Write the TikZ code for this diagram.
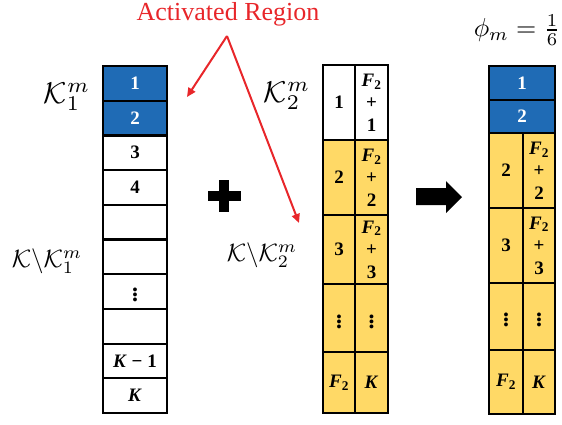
\documentclass[tikz,border=0pt]{standalone}
\usepackage{amsmath}
\usepackage{graphicx}
\usepackage{fontspec}
\setmainfont{Liberation Serif}
\usetikzlibrary{arrows.meta}
\definecolor{cblue}{RGB}{31,107,181}
\definecolor{cyell}{RGB}{255,217,102}
\definecolor{cred}{RGB}{232,38,42}
\tikzset{
  cell/.style={draw=black, line width=2.2pt, inner sep=0pt, align=center,
     font=\fontsize{19}{22.5}\selectfont\bfseries},
  bluecell/.style={cell, fill=cblue, text=white},
  yelcell/.style={cell, fill=cyell},
  whitecell/.style={cell, fill=white},
  redarrow/.style={draw=cred, line width=2pt, -{Triangle[length=9pt,width=8pt]}},
}
\newcommand{\Fb}{\textbf{\textit{F}}\textsubscript{\textbf{2}}}
\newcommand{\Kb}{\textbf{\textit{K}}}
\newcommand{\vd}{\raisebox{-2pt}{\scalebox{1.25}{$\vdots$}}}
\begin{document}
\begin{tikzpicture}[x=1pt,y=-1pt]
\useasboundingbox (0,0) rectangle (562,424);
% ---- left column
\def\rh{34.7}
\node[bluecell, minimum width=64pt, minimum height=\rh pt] (L1) at (135,83.35) {1};
\node[bluecell, minimum width=64pt, minimum height=\rh pt] (L2) at (135,118.05) {2};
\node[whitecell, minimum width=64pt, minimum height=\rh pt] (L3) at (135,152.75) {3};
\node[whitecell, minimum width=64pt, minimum height=\rh pt] (L4) at (135,187.45) {4};
\node[whitecell, minimum width=64pt, minimum height=\rh pt] (L5) at (135,222.15) {};
\node[whitecell, minimum width=64pt, minimum height=\rh pt] (L6) at (135,256.85) {};
\node[whitecell, minimum width=64pt, minimum height=\rh pt] (L7) at (135,291.55) {\vd};
\node[whitecell, minimum width=64pt, minimum height=\rh pt] (L8) at (135,326.25) {};
\node[whitecell, minimum width=64pt, minimum height=\rh pt] (L9) at (135,360.95) {\Kb{} − 1};
\node[whitecell, minimum width=64pt, minimum height=\rh pt] (L10) at (135,395.65) {\Kb};
% ---- middle column
\node[whitecell, minimum width=32pt, minimum height=75pt] (M1a) at (339,102.5) {1};
\node[whitecell, minimum width=33pt, minimum height=75pt] (M1b) at (371.5,102.5) {\Fb\\+\\1};
\node[yelcell, minimum width=32pt, minimum height=75pt] (M2a) at (339,177.5) {2};
\node[yelcell, minimum width=33pt, minimum height=75pt] (M2b) at (371.5,177.5) {\Fb\\+\\2};
\node[yelcell, minimum width=32pt, minimum height=69pt] (M3a) at (339,249.5) {3};
\node[yelcell, minimum width=33pt, minimum height=69pt] (M3b) at (371.5,249.5) {\Fb\\+\\3};
\node[yelcell, minimum width=32pt, minimum height=68pt] (M4a) at (339,318) {\vd};
\node[yelcell, minimum width=33pt, minimum height=68pt] (M4b) at (371.5,318) {\vd};
\node[yelcell, minimum width=32pt, minimum height=61pt] (M5a) at (339,382.5) {\Fb};
\node[yelcell, minimum width=33pt, minimum height=61pt] (M5b) at (371.5,382.5) {\Kb};
% ---- right column
\node[bluecell, minimum width=66pt, minimum height=34pt] (R1) at (522,83) {1};
\node[bluecell, minimum width=66pt, minimum height=33pt] (R2) at (522,116.5) {2};
\node[yelcell, minimum width=34pt, minimum height=75pt] (R3a) at (506,170.5) {2};
\node[yelcell, minimum width=32pt, minimum height=75pt] (R3b) at (539,170.5) {\Fb\\+\\2};
\node[yelcell, minimum width=34pt, minimum height=75pt] (R4a) at (506,245.5) {3};
\node[yelcell, minimum width=32pt, minimum height=75pt] (R4b) at (539,245.5) {\Fb\\+\\3};
\node[yelcell, minimum width=34pt, minimum height=67pt] (R5a) at (506,316.5) {\vd};
\node[yelcell, minimum width=32pt, minimum height=67pt] (R5b) at (539,316.5) {\vd};
\node[yelcell, minimum width=34pt, minimum height=64pt] (R6a) at (506,382) {\Fb};
\node[yelcell, minimum width=32pt, minimum height=64pt] (R6b) at (539,382) {\Kb};
% ---- labels
\node (k1) at (67,97) {\scalebox{3}{$\mathcal{K}_1^m$}};
\node (k2) at (287,96) {\scalebox{3}{$\mathcal{K}_2^m$}};
\node (kk1) at (47,261) {\scalebox{2.5}{$\mathcal{K}\backslash\mathcal{K}_1^m$}};
\node (kk2) at (262,255) {\scalebox{2.5}{$\mathcal{K}\backslash\mathcal{K}_2^m$}};
\node (phi) at (517,30) {\scalebox{2.6}{$\phi_m = \frac{1}{6}$}};
% ---- activated region
\node[text=cred, font=\fontsize{26}{30}\selectfont] (act) at (228,14) {Activated Region};
\coordinate (apex) at (227,36);
\coordinate (tipA) at (187,97);
\coordinate (tipB) at (299,223);
\draw[redarrow] (apex) -- (tipA);
\draw[redarrow] (apex) -- (tipB);
% ---- plus
\draw[line width=10pt] (208,196) -- (241,196);
\draw[line width=10pt] (224,180) -- (224,212);
% ---- big arrow
\fill[black] (416,188) -- (446,188) -- (446,181) -- (462,197) -- (446,213) -- (446,205) -- (416,205) -- cycle;
\end{tikzpicture}
\end{document}
